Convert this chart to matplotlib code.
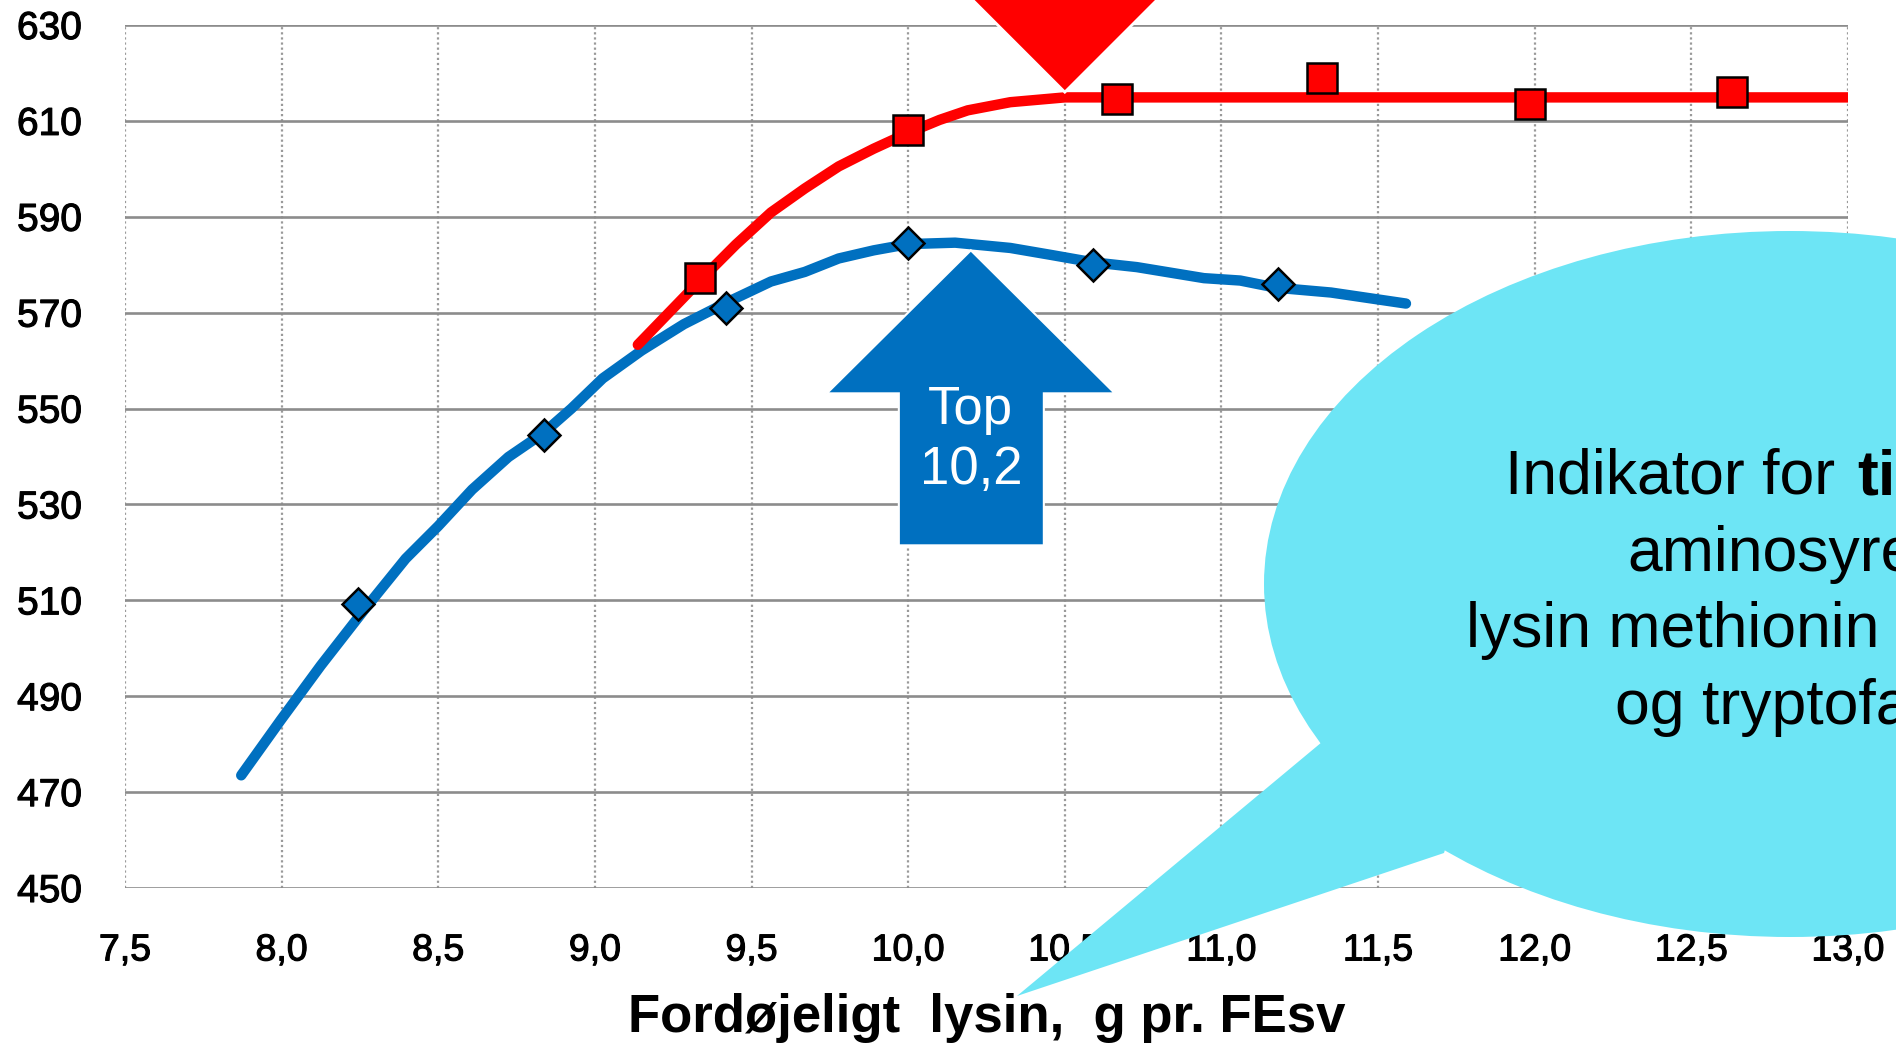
import matplotlib
matplotlib.use('Agg')
import matplotlib.pyplot as plt
import matplotlib.patches as mpatches
import matplotlib.transforms as mtransforms
import matplotlib.patheffects as pe

plt.rcParams['font.family'] = ['Liberation Sans', 'DejaVu Sans']

# fitted response curve, blue series
blue_x = [7.871, 7.998, 8.125, 8.261, 8.396, 8.5, 8.608, 8.724, 8.836, 8.925, 9.025,
          9.149, 9.284, 9.423, 9.562, 9.67, 9.778, 9.89, 10.0, 10.15, 10.326, 10.46,
          10.59, 10.73, 10.944, 11.06, 11.175, 11.35, 11.589]
blue_y = [473.5, 485.1, 496.4, 507.8, 518.7, 525.5, 533.1, 539.9, 544.9, 550.0, 556.3,
          562.1, 567.6, 572.2, 576.5, 578.5, 581.3, 583.0, 584.3, 584.6, 583.5, 582.0,
          580.5, 579.5, 577.2, 576.7, 575.2, 574.2, 571.9]
# observed values, blue series
blue_obs_x = [8.245, 8.836, 9.42, 10.0, 10.59, 11.18]
blue_obs_y = [509.3, 544.4, 570.9, 584.6, 580.0, 576.0]

# fitted response curve, red series
red_x = [9.137, 9.34, 9.45, 9.562, 9.67, 9.778, 9.89, 10.0, 10.1, 10.19, 10.326, 10.5, 13.0]
red_y = [563.3, 577.0, 584.2, 590.9, 595.9, 600.5, 604.2, 607.5, 610.2, 612.2, 613.9, 614.9, 614.9]
# observed values, red series
red_obs_x = [9.335, 10.0, 10.666, 11.322, 11.986, 12.63]
red_obs_y = [577.2, 608.0, 614.6, 618.9, 613.6, 616.1]

blue_top = (10.2, 583.0)
red_top = (10.5, 616.0)

x_ticks = [7.5, 8.0, 8.5, 9.0, 9.5, 10.0, 10.5, 11.0, 11.5, 12.0, 12.5, 13.0]
x_labels = ['7,5', '8,0', '8,5', '9,0', '9,5', '10,0', '10,5', '11,0', '11,5', '12,0', '12,5', '13,0']
y_ticks = [450, 470, 490, 510, 530, 550, 570, 590, 610, 630]

bubble_lines = ['aminosyrer', 'lysin methionin treonin', 'og tryptofan']

W, H = 1896, 1047
fig = plt.figure(figsize=(W / 100, H / 100), dpi=100)
ax = fig.add_axes([125 / W, 1 - 888 / H, (1848 - 125) / W, (888 - 25) / H])


def fx(px):
    return px / W


def fy(py):
    return 1 - py / H


ax.set_xlim(7.5, 13.0)
ax.set_ylim(450, 630)
ax.set_xticks(x_ticks)
ax.set_xticklabels(x_labels)
ax.set_yticks(y_ticks)
for s in ax.spines.values():
    s.set_visible(False)
ax.tick_params(axis='x', length=0, pad=32, labelsize=27)
ax.tick_params(axis='y', length=0, pad=31, labelsize=28)
# slightly heavier tick text
for lab in ax.get_xticklabels() + ax.get_yticklabels():
    lab.set_path_effects([pe.withStroke(linewidth=0.8, foreground='black')])
ax.grid(axis='y', color='#8c8c8c', lw=1.9, ls='-')
ax.grid(axis='x', color='#9a9a9a', lw=1.6, ls=(0, (1, 1.3)))
ax.set_axisbelow(True)

ax.plot(blue_x, blue_y, color='#0070c0', lw=7.5, solid_capstyle='round', zorder=3)
ax.plot(blue_obs_x, blue_obs_y, ls='none', marker='D', ms=16, mfc='#0070c0',
        mec='black', mew=1.8, zorder=4)
ax.plot(red_x, red_y, color='#ff0000', lw=7.5, solid_capstyle='round', zorder=3)
ax.plot(red_obs_x, red_obs_y, ls='none', marker='s', ms=22, mfc='#ff0000',
        mec='black', mew=1.8, zorder=4)

# arrow pointing at the top of the blue curve (pixel offsets from the tip)
tip_tr = mtransforms.Affine2D() + mtransforms.ScaledTranslation(blue_top[0], blue_top[1], ax.transData)
arrow = mpatches.Polygon([(0, 0), (144, -143), (73, -143), (73, -295), (-72, -295),
                          (-72, -143), (-144, -143)], closed=True, transform=tip_tr,
                         fc='#0070c0', ec='white', lw=1.5, zorder=6, clip_on=False)
ax.add_patch(arrow)
top_txt = ('%.1f' % blue_top[0]).replace('.', ',')
ax.annotate('Top', xy=blue_top, xytext=(0, -174), textcoords='offset pixels',
            ha='center', va='baseline', color='white', fontsize=38, zorder=7)
ax.annotate(top_txt, xy=blue_top, xytext=(0, -234), textcoords='offset pixels',
            ha='center', va='baseline', color='white', fontsize=38, zorder=7)

# marker triangle above the red plateau
tri_tr = mtransforms.Affine2D() + mtransforms.ScaledTranslation(red_top[0], red_top[1], ax.transData)
tri = mpatches.Polygon([(0, 0), (-170, 170), (170, 170)], closed=True, transform=tri_tr,
                       fc='#ff0000', ec='white', lw=2, zorder=6, clip_on=False)
ax.add_patch(tri)

ax.set_xlabel('Fordøjeligt  lysin,  g pr. FEsv', fontsize=38, fontweight='bold', labelpad=18)

# speech bubble
bubble_col = '#6de5f5'
ell = mpatches.Ellipse((fx(1790), fy(584)), 1052 / W, 706 / H, transform=fig.transFigure,
                       fc=bubble_col, ec='none', zorder=10)
tail = mpatches.Polygon([(fx(1322), fy(742)), (fx(1017), fy(996)), (fx(1444), fy(853)),
                         (fx(1460), fy(800))], closed=True, transform=fig.transFigure,
                        fc=bubble_col, ec='none', zorder=10)
fig.add_artist(ell)
fig.add_artist(tail)

fig.text(fx(1505), fy(494), 'Indikator for', fontsize=45, va='baseline', ha='left', zorder=11)
fig.text(fx(1857), fy(494), 'tilførte', fontsize=45, fontweight='bold', va='baseline',
         ha='left', zorder=11)
for line, px, py in zip(bubble_lines, [1627, 1466, 1615], [571, 647, 724]):
    fig.text(fx(px), fy(py), line, fontsize=45, va='baseline', ha='left', zorder=11)

fig.savefig('out.png', dpi=100)
